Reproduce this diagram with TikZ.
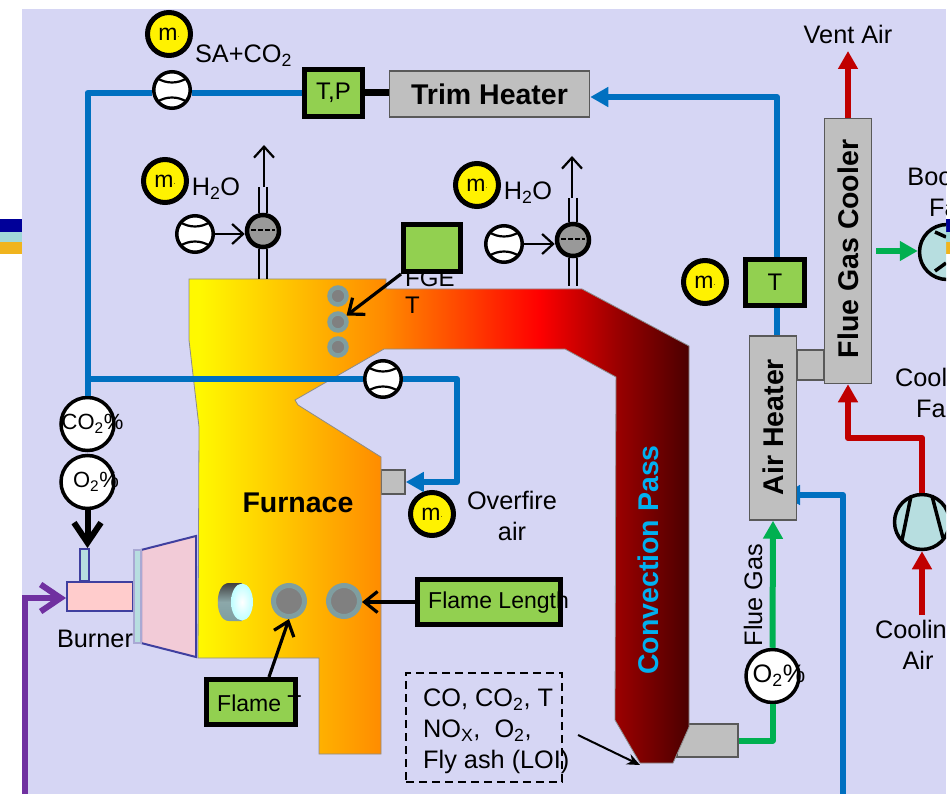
\documentclass[tikz,border=0pt]{standalone}
\usepackage{fontspec}
\setmainfont{Liberation Sans}
\usetikzlibrary{arrows.meta,positioning,calc}

\definecolor{panelbg}{HTML}{D6D6F4}
\definecolor{gasblue}{HTML}{0070C0}
\definecolor{hotred}{HTML}{C00000}
\definecolor{fluegreen}{HTML}{00B050}
\definecolor{coalpurple}{HTML}{7030A0}
\definecolor{boxgreen}{HTML}{92D050}
\definecolor{unitgrey}{HTML}{BFBFBF}
\definecolor{fanteal}{HTML}{B7DEE0}
\definecolor{burnerblue}{HTML}{3F3F9F}
\definecolor{ringgrey}{HTML}{7F9EA0}
\definecolor{passcyan}{HTML}{00B0F0}
\definecolor{conepink}{HTML}{F2CBD7}
\definecolor{stripeblue}{HTML}{000099}
\definecolor{stripeteal}{HTML}{A0D8D8}
\definecolor{stripegold}{HTML}{F0B41E}

\pgfdeclarehorizontalshading{flamegrad}{100bp}{
    color(0bp)=(yellow!95!orange);
    color(25bp)=(yellow!95!orange);
    color(26bp)=(yellow!95!orange);
    color(44.5bp)=(rgb,255:red,255;green,138;blue,0);
    color(60bp)=(rgb,255:red,255;green,0;blue,0);
    color(67.7bp)=(rgb,255:red,155;green,0;blue,0);
    color(75bp)=(rgb,255:red,75;green,0;blue,0);
    color(100bp)=(rgb,255:red,75;green,0;blue,0)}

\newcommand{\mflow}{m\raisebox{3pt}{\fontsize{7}{7}\selectfont.}}

\tikzset{
    lab/.style={font=\fontsize{25.3}{31}\selectfont, inner sep=0pt, align=center},
    labbold/.style={font=\fontsize{28.5}{32}\selectfont\bfseries, inner sep=0pt},
    unitbox/.style={draw=black!65, line width=1.5pt, fill=unitgrey, inner sep=0pt},
    sensorbox/.style={draw=black, line width=5pt, fill=boxgreen, inner sep=0pt, font=\fontsize{24}{28}\selectfont},
    massmeter/.style={circle, draw=black, line width=5pt, fill=yellow, minimum size=43pt, inner sep=0pt, font=\fontsize{23}{25}\selectfont},
    flowmeter/.style={circle, draw=black, line width=3.5pt, fill=white, minimum size=36.5pt, inner sep=0pt},
    meterarc/.style={draw=black, line width=2.2pt},
    gascircle/.style={circle, draw=black, line width=3.5pt, fill=white, minimum size=53pt, inner sep=0pt},
    valvenode/.style={circle, draw=black, line width=4.5pt, fill=black!40, minimum size=32pt, inner sep=0pt},
    portnode/.style={circle, draw=ringgrey, line width=5pt, fill=black!50, minimum size=31pt, inner sep=0pt},
    tubenode/.style={circle, draw=ringgrey, line width=4.5pt, fill=black!50, minimum size=17pt, inner sep=0pt},
    fannode/.style={circle, draw=black, line width=3.5pt, fill=fanteal, minimum size=55pt, inner sep=0pt},
    blueline/.style={draw=gasblue, line width=6pt, line join=round},
    redline/.style={draw=hotred, line width=6pt, line join=round},
    greenline/.style={draw=fluegreen, line width=6pt, line join=round},
    bigtip/.style={-{Triangle[length=18pt,width=19pt]}},
    barbtip/.style={-{Straight Barb[length=13pt,width=21pt]}, line width=3.2pt, draw=black},
    pipe/.style={draw=black, line width=2.2pt},
}

\begin{document}
\begin{tikzpicture}[x=1pt, y=-1pt]
    \useasboundingbox (0,0) rectangle (950,794);

    % Side stripes
    \foreach \xa/\xb in {0/22, 946/950} {
        \fill[stripeblue] (\xa,219) rectangle (\xb,232);
        \fill[stripeteal] (\xa,232) rectangle (\xb,242);
        \fill[stripegold] (\xa,242) rectangle (\xb,254);
    }

    \begin{scope}
    \clip (22,9) rectangle (946,794);
    \fill[panelbg] (22,9) rectangle (946,794);

    % Units behind the furnace
    \node[unitbox, minimum width=61pt, minimum height=33pt] (ductbox) at (707.5,740.5) {};
    \node[unitbox, minimum width=24pt, minimum height=24pt] (nozzle) at (393,482) {};

    % Furnace and convection pass
    \shadedraw[shading=flamegrad, draw=black!45, line width=0.8pt]
        (189,279) -- (386,279) -- (386,289) -- (582,289) -- (689,346) -- (689,727)
        -- (673,763) -- (640,763) -- (615,720) -- (616,377) -- (565,349) -- (384,349)
        -- (295,400) -- (298,405) -- (381,457) -- (381,754) -- (319,754) -- (319,658)
        -- (198,658) -- (199,427) -- (189,340) -- cycle;
    \node[labbold] (furnacelab) at (298,503) {Furnace};
    \node[labbold, text=passcyan, rotate=90] (passlab) at (648,560) {Convection Pass};

    % Tube bank at the furnace exit
    \foreach \y/\lab in {296/a, 322/b, 347/c} {
        \node[tubenode] (tube\lab) at (338,\y) {};
    }

    % Flame ports
    \node[portnode] (porta) at (289,601) {};
    \node[portnode] (portb) at (344,601) {};
    \shade[top color=black!75, bottom color=ringgrey, middle color=ringgrey!90!white]
        (229,583) -- (242,583) -- (242,621) -- (229,621)
        .. controls (214,621) and (214,583) .. (229,583) -- cycle;
    \shade[inner color=white, outer color=cyan!25] (242,602) ellipse (11 and 18.5);

    % Burner
    \node[draw=burnerblue, line width=2pt, fill=fanteal, minimum width=9pt, minimum height=32pt, inner sep=0pt] (coaltube) at (84,565) {};
    \node[draw=burnerblue, line width=2pt, fill=red!20, minimum width=66pt, minimum height=29pt, inner sep=0pt] (burnerbox) at (100,596) {};
    \filldraw[draw=burnerblue, line width=2pt, fill=conepink] (141,550) -- (196,536) -- (196,657) -- (141,643) -- cycle;
    \node[draw=burnerblue!45, line width=1.5pt, fill=fanteal, minimum width=7pt, minimum height=93pt, inner sep=0pt] (burnerplate) at (137.5,596.5) {};
    \node[lab] (burnerlab) at (95,639) {Burner};

    % Process units
    \node[unitbox, minimum width=200pt, minimum height=46pt] (trimheater) at (489.5,94) {};
    \node[labbold] (trimlab) at (489.5,94) {Trim Heater};
    \node[unitbox, minimum width=27pt, minimum height=30pt] (linkbox) at (810.5,365) {};
    \node[unitbox, minimum width=47pt, minimum height=184pt] (airheater) at (773,428) {};
    \node[labbold, rotate=90] (airlab) at (773,427) {Air Heater};
    \node[unitbox, minimum width=47pt, minimum height=265pt] (fgcooler) at (848,251) {};
    \node[labbold, rotate=90] (coolerlab) at (848,249) {Flue Gas Cooler};

    % Green sensor boxes
    \node[sensorbox, minimum width=58pt, minimum height=47pt] (tpbox) at (333.5,93) {T,P};
    \node[sensorbox, minimum width=59pt, minimum height=46pt] (tbox) at (775,282.5) {T};
    \node[sensorbox, minimum width=57pt, minimum height=47pt] (fgebox) at (432,248) {};
    \node[sensorbox, minimum width=143pt, minimum height=45pt] (lengthbox) at (489,602) {};
    \node[sensorbox, minimum width=89pt, minimum height=45pt] (flametbox) at (251,702) {};
    \node[lab, font=\fontsize{24}{27}\selectfont, align=left, anchor=west] (fgelab) at (405,292) {FGE\\T};
    \node[lab, font=\fontsize{23}{27}\selectfont, anchor=west] (lengthlab) at (428,603) {Flame Length};
    \node[lab, font=\fontsize{23}{27}\selectfont, anchor=west] (flametlab) at (217,703) {Flame T};

    % Mass flow meters
    \foreach \x/\y/\lab in {169/34/a, 165/181/b, 477/185/c, 705/282/d, 432/514/e} {
        \node[massmeter] (mass\lab) at (\x,\y) {\mflow};
    }

    % Flow meters
    \foreach \x/\y/\lab in {172/90/a, 195/234/b, 383/379/c, 504/244/d} {
        \node[flowmeter] (meter\lab) at (\x,\y) {};
        \draw[meterarc] (\x-15,\y-12) .. controls (\x-6,\y-6) and (\x+6,\y-6) .. (\x+15,\y-12);
        \draw[meterarc] (\x-15,\y+12) .. controls (\x-6,\y+6) and (\x+6,\y+6) .. (\x+15,\y+12);
    }

    % Spray valves
    \foreach \x/\y/\tx/\ty/\lab in {263/231/264/145/a, 573/240/572/156/b} {
        \node[valvenode] (valve\lab) at (\x,\y) {};
        \draw[black, line width=2pt, dash pattern=on 5pt off 2pt] ([xshift=-12pt,yshift=1pt]valve\lab.center) -- ([xshift=12pt,yshift=1pt]valve\lab.center);
        \coordinate (steam\lab) at (\tx,\ty);
        \coordinate (steamin\lab) at (\tx,\ty+42);
    }
    \coordinate (roofa) at (263,279);
    \coordinate (roofb) at (572,286);
    \foreach \lab in {a, b} {
        \draw[pipe] ([xshift=-4pt]valve\lab.south) -- ([xshift=-4pt]valve\lab.south |- roof\lab);
        \draw[pipe] ([xshift=4pt]valve\lab.south) -- ([xshift=4pt]valve\lab.south |- roof\lab);
        \draw[pipe] ([xshift=-4pt]valve\lab.north) -- ([xshift=-4pt]valve\lab.north |- steamin\lab);
        \draw[pipe] ([xshift=4pt]valve\lab.north) -- ([xshift=4pt]valve\lab.north |- steamin\lab);
        \draw[black, line width=2.2pt, -{Straight Barb[length=11pt,width=20pt]}] (steamin\lab) -- (steam\lab);
    }
    \draw[black, line width=2.2pt, -{Straight Barb[length=11pt,width=20pt]}] (meterb.east) -- (meterb.east -| valvea.west);
    \draw[black, line width=2.2pt, -{Straight Barb[length=11pt,width=20pt]}] (meterd.east) -- (meterd.east -| valveb.west);

    % Gas analysers
    \node[gascircle] (co2meter) at (87.5,424) {};
    \node[gascircle] (o2meter) at (87.5,482) {};
    \node[gascircle] (o2flue) at (772.5,676) {};
    \node[lab, font=\fontsize{22}{26}\selectfont] (co2lab) at (92.5,424) {CO\textsubscript{2}\%};
    \node[lab, font=\fontsize{22}{26}\selectfont] (o2lab) at (96,482) {O\textsubscript{2}\%};
    \node[lab] (o2fluelab) at (779,676) {O\textsubscript{2}\%};

    % Fans
    \node[fannode] (boostfan) at (947,252) {};
    \node[fannode] (coolfan) at (922,522) {};
    \draw[black, line width=3.5pt] (911,496) -- (902,540) (932,496) -- (943,538);
    \draw[black, line width=3.5pt] (935,232) -- (946,237) (935,271) -- (946,263);

    % Secondary air loop
    \coordinate (recycle) at (tpbox.west -| co2meter.north);
    \draw[blueline] (tpbox.west) -- (tpbox.west -| metera.east);
    \draw[blueline] (tpbox.west -| metera.west) -- (recycle) -- (co2meter.north);
    \draw[black, line width=7pt] (tpbox.east) -- (tpbox.east -| trimheater.west);
    \coordinate (ofastart) at (91,379);
    \coordinate (ofacorner) at (457,379);
    \draw[blueline] (ofastart) -- (meterc.west);
    \draw[blueline, bigtip] (meterc.east) -- (ofacorner) -- (ofacorner |- nozzle.east) -- (nozzle.east);
    \coordinate (trimcorner) at (777,97);
    \draw[blueline, bigtip] (tbox.north -| trimcorner) -- (trimcorner) -- (trimcorner -| trimheater.east);
    \draw[blueline] (tbox.south -| trimcorner) -- (airheater.north -| trimcorner);
    \coordinate (airin) at (843,794);
    \coordinate (airbend) at (843,495);
    \begin{scope}
        \clip (797,470) rectangle (946,794);
        \draw[blueline, bigtip] (airin) -- (airbend) -- (782,495);
    \end{scope}

    % Flue gas and cooling air
    \coordinate (flueelbow) at (ductbox.east -| o2flue.south);
    \draw[greenline] (ductbox.east) -- (flueelbow) -- (o2flue.south);
    \draw[greenline, bigtip] (o2flue.north) -- (airheater.south);
    \draw[greenline, bigtip] ([xshift=4pt]fgcooler.east) -- (fgcooler.east -| boostfan.west);
    \coordinate (ventend) at (848,51);
    \draw[redline, bigtip] (fgcooler.north) -- (ventend);
    \coordinate (coolbend) at (880,438);
    \draw[redline, bigtip] (coolfan.north) -- (coolfan.north |- coolbend) -- (fgcooler.south |- coolbend) -- (fgcooler.south);
    \coordinate (coolin) at (922,615);
    \draw[redline, bigtip] (coolin) -- (coolfan.south);

    % Coal line
    \coordinate (coalend) at (25,794);
    \coordinate (coalstub) at (22,598);
    \draw[draw=coalpurple, line width=6pt] (coalend) -- (coalstub -| coalend);
    \draw[draw=coalpurple, line width=6pt, -{Straight Barb[length=20pt,width=27pt]}] (coalstub) -- (coalstub -| burnerbox.west);
    \draw[black, line width=6pt, -{Straight Barb[length=20pt,width=27pt]}] (o2meter.south) -- (o2meter.south |- coaltube.north);

    % Sensor arrows
    \draw[barbtip] (fgebox.south west) -- (tubeb);
    \draw[barbtip] (lengthbox.west) -- (lengthbox.west -| portb.east);
    \draw[barbtip] (269,677) -- (porta.south);

    % Sample box
    \node[draw=black, line width=2pt, dash pattern=on 8pt off 5pt, minimum width=156pt, minimum height=109pt, inner sep=0pt] (samplebox) at (484,727.5) {};
    \node[lab, align=left, anchor=west] (samplelab) at (423,731.5) {CO, CO\textsubscript{2}, T\\NO\textsubscript{X},~ O\textsubscript{2},\\Fly ash (LOI)};
    \coordinate (samplefrom) at (578,735);
    \coordinate (hopper) at (640,765);
    \draw[black, line width=2pt, -{Stealth[length=13pt,width=11pt]}] (samplefrom) -- (hopper);

    % Labels
    \node[lab] (sacolab) at (243.5,56) {SA+CO\textsubscript{2}};
    \node[lab] (wateralab) at (216,189) {H\textsubscript{2}O};
    \node[lab] (waterblab) at (528,193) {H\textsubscript{2}O};
    \node[lab] (overfirelab) at (512,516) {Overfire\\air};
    \node[lab] (ventlab) at (848,34) {Vent Air};
    \node[lab, rotate=90] (fluelab) at (753,595) {Flue Gas};
    \node[lab] (boostlab) at (951,192) {Booster\\Fan};
    \node[lab] (coolfanlab) at (938,393) {Cooling\\Fan};
    \node[lab] (coolairlab) at (918,645) {Cooling\\Air};
    \end{scope}
\end{tikzpicture}
\end{document}
